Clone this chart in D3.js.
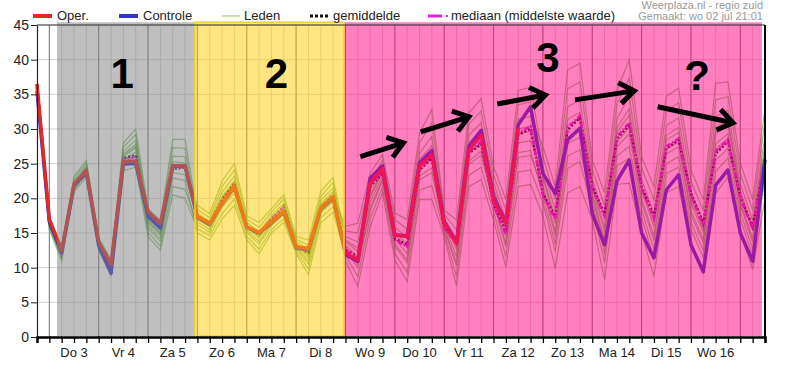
<!DOCTYPE html>
<html><head><meta charset="utf-8">
<script src="https://cdn.jsdelivr.net/npm/d3@7"></script>
<style>
html,body{margin:0;padding:0;background:#fff;}
svg{display:block;font-family:"Liberation Sans",Arial,sans-serif;}
</style></head><body>
<svg id="c" width="790" height="375"></svg>
<script>
// ---------- DATA ----------
// time axis: index of 6-hour steps starting Wo 2 jul 18:00
const nSteps = 59;
const dayLabels = ["Do 3","Vr 4","Za 5","Zo 6","Ma 7","Di 8","Wo 9","Do 10","Vr 11","Za 12","Zo 13","Ma 14","Di 15","Wo 16"];
const dayLabelIndex = [3,7,11,15,19,23,27,31,35,39,43,47,51,55];
const dayBoundaryIndex = [1,5,9,13,17,21,25,29,33,37,41,45,49,53,57];
const yTicks = [0,5,10,15,20,25,30,35,40,45];

const oper = [36.5,17.0,12.5,22.0,24.0,13.7,10.5,25.3,25.4,18.1,16.4,24.7,24.7,17.4,16.4,19.3,21.7,15.9,15.1,16.6,18.1,13.0,12.8,18.6,20.2,12.1,11.1,22.2,24.3,14.7,14.5,24.7,26.3,16.4,13.5,27.0,29.1,19.8,16.4,30.1];
const controle = [35.5,16.6,12.2,21.8,23.7,13.2,9.2,25.0,25.0,17.4,15.7,24.6,24.7,17.2,16.2,19.2,21.6,15.8,15.0,16.4,18.0,12.8,12.6,18.4,20.0,11.9,10.9,22.9,24.7,14.7,14.6,25.1,26.9,16.6,13.7,27.5,29.8,20.2,16.6,30.6,33.2,23.6,20.7,28.4,30.1,17.8,13.3,22.5,25.5,15.0,11.4,21.2,23.4,13.3,9.4,21.9,24.1,15.0,10.9,25.6];
const gemiddelde = [36.0,16.6,12.2,22.0,24.0,13.5,10.3,25.8,26.2,17.4,15.8,24.2,24.5,17.3,16.4,19.8,22.2,15.8,14.8,17.0,18.8,13.0,12.2,18.6,20.4,12.6,11.6,21.7,23.6,14.2,13.3,24.1,25.8,15.9,13.8,26.5,27.8,19.3,15.2,29.1,30.1,20.7,17.4,29.9,31.6,21.7,17.8,28.6,30.6,21.7,17.4,27.2,28.4,20.7,16.4,26.5,28.2,20.2,15.9,25.5];
const mediaan = [36.1,16.7,12.2,22.1,24.1,13.5,10.2,25.6,26.0,17.5,15.9,24.3,24.6,17.2,16.3,19.7,22.0,15.9,14.9,17.1,18.7,13.1,12.3,18.7,20.3,12.5,11.3,21.9,23.8,14.0,13.0,24.3,26.1,15.7,13.5,26.7,28.2,19.0,14.8,29.4,30.4,20.5,17.0,30.2,31.9,21.4,17.5,28.9,30.9,21.5,17.1,27.5,28.6,20.4,16.1,26.8,28.5,20.0,15.6,25.8];

const lid1 = [36.5,17.2,13.0,23.2,25.5,14.3,11.2,28.0,30.0,18.5,16.8,28.5,28.5,17.8,16.7,20.9,23.2,16.5,15.2,17.5,19.3,13.8,12.5,19.7,21.5,15.3,15.0,22.4,25.5,16.9,15.6,28.0,30.9,17.7,15.5,30.7,32.6,23.4,18.3,33.5,33.9,23.0,16.4,30.5,31.5,21.6,15.1,29.5,32.0,21.1,15.9,28.4,29.5,19.2,15.1,29.4,30.6,20.6,15.3,27.2];
const lid2 = [35.0,15.5,11.0,21.0,23.0,12.5,8.8,24.0,24.5,14.5,12.5,20.5,20.0,15.6,14.6,17.8,19.9,14.5,12.7,15.5,17.1,12.4,9.8,17.2,18.8,12.5,10.0,18.2,22.5,13.1,10.7,22.7,23.7,15.6,10.2,24.9,26.2,19.2,13.0,25.9,26.2,21.4,14.6,27.9,28.8,20.3,13.2,27.4,29.3,19.4,13.9,26.4,27.4,17.6,13.6,27.1,28.6,19.0,13.7,25.2];
const lid3 = [35.8,16.4,12.0,22.1,24.3,13.4,10.0,26.0,27.3,16.5,14.7,24.5,24.3,19.0,17.8,22.5,25.0,17.5,16.5,18.5,20.5,14.5,14.0,21.0,23.0,14.0,12.8,20.5,24.1,15.2,13.3,25.6,27.6,16.8,13.1,28.1,29.7,21.5,15.9,30.0,30.4,24.5,18.2,33.2,34.2,22.9,17.0,31.5,34.7,22.7,17.8,30.5,31.6,20.9,16.7,31.8,32.7,22.1,16.8,29.1];
const lid4 = [36.1,16.7,12.4,22.5,24.8,13.8,10.5,26.8,28.4,17.3,15.5,26.1,26.0,16.6,15.5,19.2,21.4,15.4,13.8,16.4,18.1,13.0,11.0,18.3,20.0,16.0,16.4,23.6,26.3,17.9,16.9,29.4,32.8,18.3,16.9,32.3,34.4,24.6,19.8,35.6,36.0,26.0,19.9,35.8,36.8,24.2,18.9,33.6,37.3,24.4,19.8,32.6,33.8,22.5,18.2,34.2,34.7,23.6,18.3,31.1];
const lid5 = [35.5,16.0,11.6,21.7,23.8,13.0,9.5,25.2,26.2,15.7,13.8,22.9,22.6,15.0,14.0,17.0,19.0,14.0,12.0,15.0,16.5,12.0,9.0,16.5,18.0,11.8,8.7,17.1,21.6,12.1,9.3,21.2,21.8,15.1,8.7,23.3,24.5,18.1,11.6,23.8,24.1,19.4,12.3,24.3,25.3,18.6,10.7,24.7,25.8,17.2,11.3,23.6,24.5,15.5,11.5,23.9,25.8,17.0,11.7,22.6];
const lid6 = [35.9,16.5,12.2,22.3,24.5,13.6,10.2,26.4,27.8,16.9,15.1,25.3,25.1,18.4,17.2,21.7,24.1,17.0,15.8,18.0,19.9,14.1,13.3,20.3,22.3,11.0,7.3,15.9,20.8,11.1,8.0,19.8,19.8,14.5,7.3,21.7,22.7,16.9,10.1,21.7,22.0,17.4,9.9,20.8,21.7,16.9,8.2,22.0,22.2,15.0,8.7,20.8,21.7,13.3,9.4,20.7,23.1,15.0,9.7,20.0];
const lid7 = [35.6,16.2,11.8,21.9,24.0,13.2,9.8,25.6,26.7,16.1,14.2,23.7,23.4,17.2,16.1,20.0,22.3,15.9,14.5,16.9,18.7,13.4,11.8,19.0,20.8,14.5,13.7,21.3,24.7,15.9,14.2,26.5,28.9,17.2,14.0,29.1,30.9,22.3,16.9,31.4,31.8,27.5,21.7,38.5,39.5,25.5,20.8,35.6,40.0,26.0,21.7,34.7,35.9,24.1,19.8,36.6,36.8,25.1,19.8,33.0];
const lid8 = [36.3,17.0,12.7,22.9,25.1,14.0,10.8,27.4,29.2,17.9,16.2,27.3,27.2,17.0,15.9,19.8,22.0,15.8,14.3,16.8,18.5,13.3,11.5,18.8,20.5,13.3,11.4,19.4,23.3,14.2,12.0,24.1,25.7,16.2,11.6,26.5,28.0,20.4,14.5,28.0,28.3,23.5,17.0,31.4,32.4,22.1,15.8,30.2,32.9,21.6,16.5,29.1,30.2,19.8,15.6,30.2,31.3,21.1,15.8,27.8];
const lid9 = [35.2,15.8,11.3,21.3,23.4,12.8,9.2,24.6,25.3,15.1,13.1,21.7,21.3,16.2,15.1,18.7,20.8,15.1,13.4,16.1,17.7,12.8,10.5,17.9,19.5,13.8,12.3,20.1,23.8,14.8,12.9,25.1,27.0,16.6,12.6,27.5,29.1,21.1,15.4,29.3,29.7,21.9,15.2,28.8,29.7,20.8,13.9,28.1,30.2,20.0,14.6,27.1,28.1,18.2,14.1,27.9,29.3,19.5,14.2,25.9];
const lid10 = [35.8,16.4,12.1,22.2,24.4,13.5,10.1,26.2,27.5,16.7,14.9,24.9,24.7,17.4,16.3,20.3,22.6,16.1,14.7,17.1,18.9,13.5,12.0,19.2,21.0,12.8,10.5,18.6,22.7,13.5,11.1,23.2,24.4,15.8,10.7,25.4,26.8,19.6,13.5,26.6,26.9,20.4,13.4,26.1,27.0,19.5,12.0,26.1,27.5,18.3,12.6,25.0,26.0,16.5,12.5,25.5,27.2,18.0,12.7,23.9];
const leden = [lid1,lid2,lid3,lid4,lid5,lid6,lid7,lid8,lid9,lid10];

// highlighted periods (in 6-hour step index units) and annotation labels
const shadeFrom = [1.62, 12.8, 24.88];
const shadeTo   = [12.8, 24.88, 58.75];
const noteText  = ["1","2","3","?"];
const noteIndex = [6.9, 19.4, 41.4, 53.5];
const noteValue = [35.9, 35.9, 38.2, 35.6];
// arrows: [fromIndex, fromValue, toIndex, toValue]
const arrows = [[26.2,26.0,29.7,28.0],[31.1,29.6,35.0,31.75],[37.3,33.6,41.2,34.9],[43.6,34.2,48.4,35.5],[50.3,33.2,56.4,30.9]];

// ---------- CHART ----------
const svg = d3.select("#c");
const x = d3.scaleLinear().domain([0, nSteps]).range([37, 765]);
const y = d3.scaleLinear().domain([0, 45]).range([337, 25]);

svg.append("rect").attr("width",790).attr("height",375).attr("fill","#fff");

const grid = svg.append("g");
grid.selectAll("line.h").data(yTicks).join("line")
  .attr("x1", x(0)).attr("x2", x(nSteps)).attr("y1", d=>y(d)).attr("y2", d=>y(d))
  .attr("stroke","#d2d2d2").attr("stroke-width",1);
grid.selectAll("line.v").data(d3.range(1, nSteps)).join("line")
  .attr("x1", d=>x(d)).attr("x2", d=>x(d)).attr("y1", y(45)).attr("y2", y(0))
  .attr("stroke","#d6d6d6").attr("stroke-width",1);
grid.selectAll("line.d").data(dayBoundaryIndex).join("line")
  .attr("x1", d=>x(d)).attr("x2", d=>x(d)).attr("y1", y(45)).attr("y2", y(0))
  .attr("stroke","#7a7a7a").attr("stroke-width",1);

const line = d3.line().x((d,i)=>x(i)).y(d=>y(d));

svg.append("g").selectAll("path").data(leden).join("path")
  .attr("d", line).attr("fill","none").attr("stroke","#4a9e2c")
  .attr("stroke-opacity",0.6).attr("stroke-width",1.2);

svg.append("path").attr("d", line(gemiddelde)).attr("fill","none")
  .attr("stroke","#111").attr("stroke-width",2.5).attr("stroke-dasharray","2,2");
svg.append("path").attr("d", line(mediaan)).attr("fill","none")
  .attr("stroke","#e020e0").attr("stroke-width",2.5).attr("stroke-dasharray","5,2,1.5,2");
svg.append("path").attr("d", line(controle)).attr("fill","none")
  .attr("stroke","#3434c8").attr("stroke-width",3.5).attr("stroke-linejoin","round");
svg.append("path").attr("d", line(oper)).attr("fill","none")
  .attr("stroke","#e02828").attr("stroke-width",3.5).attr("stroke-linejoin","round");

// highlight overlays
const shadeColors = ["#808080","#ffcc00","#ff0080"];
svg.append("g").selectAll("rect").data(shadeFrom).join("rect")
  .attr("x", d=>x(d)).attr("width", (d,i)=>x(shadeTo[i])-x(d))
  .attr("y", y(45.4)).attr("height", y(0.15)-y(45.4))
  .attr("fill", (d,i)=>shadeColors[i]).attr("fill-opacity",0.5);
svg.append("rect").attr("x", x(shadeFrom[1])).attr("width", x(shadeTo[1])-x(shadeFrom[1]))
  .attr("y", y(45.4)).attr("height", y(0.15)-y(45.4))
  .attr("fill","none").attr("stroke","#f2d230").attr("stroke-width",1.5);

// axes
const xAxis = d3.axisBottom(x).tickValues(d3.range(0, nSteps+1)).tickSize(6).tickFormat("");
const gx = svg.append("g").attr("transform",`translate(0,${y(0)})`).call(xAxis);
gx.select(".domain").attr("stroke","#000").attr("stroke-width",2.5);
gx.selectAll(".tick line").attr("stroke","#000").attr("stroke-width",1.3);
svg.append("g").selectAll("text").data(dayLabels).join("text")
  .attr("x",(d,i)=>x(dayLabelIndex[i])).attr("y",357).attr("text-anchor","middle")
  .attr("font-size",13).attr("fill","#222").text(d=>d);

const yAxis = d3.axisLeft(y).tickValues(yTicks).tickSize(6).tickSizeOuter(0);
const gy = svg.append("g").attr("transform",`translate(${x(0)},0)`).call(yAxis);
gy.select(".domain").attr("stroke","#222").attr("stroke-width",1.2);
gy.selectAll(".tick line").attr("stroke","#222");
gy.selectAll(".tick text").attr("font-size",14).attr("fill","#222").attr("font-family","Liberation Sans, Arial, sans-serif").attr("x",-8);

svg.append("line").attr("x1",x(0)).attr("x2",x(nSteps)).attr("y1",y(45)).attr("y2",y(45)).attr("stroke","#333").attr("stroke-width",1);
svg.append("line").attr("x1",x(nSteps)).attr("x2",x(nSteps)).attr("y1",y(45)).attr("y2",y(0)).attr("stroke","#000").attr("stroke-width",2);

// annotations
svg.append("g").selectAll("text").data(noteText).join("text")
  .attr("x",(d,i)=>x(noteIndex[i])).attr("y",(d,i)=>y(noteValue[i]))
  .attr("text-anchor","middle").attr("font-size",42).attr("font-weight","bold")
  .attr("fill","#000").text(d=>d);

const ag = svg.append("g").attr("stroke","#000").attr("stroke-width",5).attr("fill","none");
arrows.forEach(a => {
  const x0 = x(a[0]), y0 = y(a[1]), x1 = x(a[2]), y1 = y(a[3]);
  const ang = Math.atan2(y1-y0, x1-x0), L = 18, sp = 0.62;
  ag.append("line").attr("x1",x0).attr("y1",y0).attr("x2",x1).attr("y2",y1);
  ag.append("path").attr("stroke-linejoin","miter")
    .attr("d", `M${x1-L*Math.cos(ang-sp)},${y1-L*Math.sin(ang-sp)}L${x1},${y1}L${x1-L*Math.cos(ang+sp)},${y1-L*Math.sin(ang+sp)}`);
});

// legend
const lg = svg.append("g").attr("font-size",13).attr("fill","#222");
lg.append("line").attr("x1",33).attr("x2",52).attr("y1",16).attr("y2",16).attr("stroke","#e02828").attr("stroke-width",4);
lg.append("text").attr("x",57).attr("y",20).text("Oper.");
lg.append("line").attr("x1",119).attr("x2",138).attr("y1",16).attr("y2",16).attr("stroke","#3434c8").attr("stroke-width",4);
lg.append("text").attr("x",143).attr("y",20).text("Controle");
lg.append("line").attr("x1",222).attr("x2",240).attr("y1",16).attr("y2",16).attr("stroke","#a8dc98").attr("stroke-width",1.5);
lg.append("text").attr("x",244).attr("y",20).text("Leden");
lg.append("line").attr("x1",310).attr("x2",328).attr("y1",16).attr("y2",16).attr("stroke","#111").attr("stroke-width",3).attr("stroke-dasharray","3,2");
lg.append("text").attr("x",333).attr("y",20).text("gemiddelde");
lg.append("line").attr("x1",428).attr("x2",442).attr("y1",16).attr("y2",16).attr("stroke","#e020e0").attr("stroke-width",3);
lg.append("line").attr("x1",446).attr("x2",448).attr("y1",16).attr("y2",16).attr("stroke","#e020e0").attr("stroke-width",2);
lg.append("text").attr("x",451).attr("y",20).text("mediaan (middelste waarde)");

svg.append("text").attr("x",763).attr("y",9).attr("text-anchor","end").attr("font-size",11).attr("fill","#999").text("Weerplaza.nl - regio zuid");
svg.append("text").attr("x",763).attr("y",20).attr("text-anchor","end").attr("font-size",11).attr("fill","#999").text("Gemaakt: wo 02 jul 21:01");
</script>
</body></html>
